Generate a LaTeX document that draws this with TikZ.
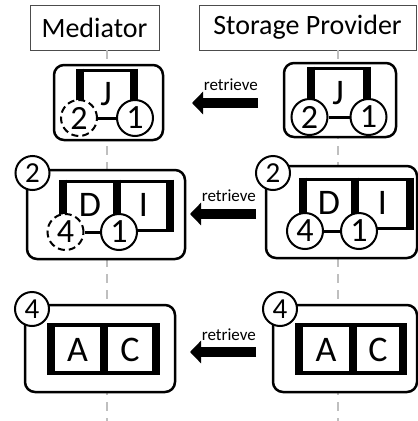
\documentclass[tikz,border=0pt]{standalone}
\usepackage{fontspec}
\setmainfont{Carlito}
\usetikzlibrary{arrows.meta}

\begin{document}
\begin{tikzpicture}[x=1pt, y=-1pt,
	header/.style={draw=black!70, line width=0.9pt, minimum height=45pt, inner sep=0pt, font=\fontsize{28}{28}\selectfont},
	lifeline/.style={draw=black!25, line width=2pt, dash pattern=on 9pt off 7pt},
	group/.style={draw, line width=2.5pt, rounded corners=10pt, fill=white},
	chunk/.style={circle, draw, line width=2pt, fill=white, minimum size=36pt, inner sep=0pt, font=\fontsize{34}{34}\selectfont},
	missing/.style={chunk, dash pattern=on 7pt off 4pt},
	badge/.style={chunk, minimum size=34pt, font=\fontsize{29}{29}\selectfont},
	letter/.style={inner sep=0pt, font=\fontsize{36}{36}\selectfont},
	thinside/.style={line width=3pt},
	thickside/.style={line width=7.5pt},
	fetch/.style={line width=10pt, -{Triangle[length=11pt, width=22pt]}},
	fetchlabel/.style={anchor=base east, inner sep=0pt, font=\fontsize{17}{17}\selectfont}]
	\useasboundingbox (0,0) rectangle (418,421);
	\node[header, minimum width=129pt] (med) at (94.5,27.5) {Mediator};
	\node[header, minimum width=217pt] (sp) at (307.5,27.5) {Storage Provider};
	\coordinate (medend) at (107,421);
	\coordinate (spend) at (338,421);
	\draw[lifeline] (med.south -| medend) -- (medend);
	\draw[lifeline] (sp.south -| spend) -- (spend);

	\draw[group] (54,65) rectangle (163,140);
	\draw[thinside] (80,118) -- (80,70) -- (134,70) -- (134,118);
	\draw[thickside] (80,68.5) -- (80,118) (134,68.5) -- (134,118);
	\node[letter] (mj) at (106,94) {J};
	\node[missing] (mj2) at (79,118) {2};
	\node[chunk] (mj1) at (135,118) {1};
	\draw[thinside] (mj2) -- (mj1);

	\draw[group] (284,63) rectangle (396,137);
	\draw[thinside] (311,117) -- (311,68) -- (367,68) -- (367,117);
	\draw[thickside] (311,66.5) -- (311,117) (367,66.5) -- (367,117);
	\node[letter] (sj) at (338,93) {J};
	\node[chunk] (sj2) at (309.5,117) {2};
	\node[chunk] (sj1) at (368.5,117) {1};
	\draw[thinside] (sj2) -- (sj1);

	\coordinate (f1s) at (258,103);
	\coordinate (f1e) at (192,103);
	\draw[fetch] (f1s) -- (f1e);
	\node[fetchlabel] (t1) at (258,90) {retrieve};

	\draw[group] (27,170) rectangle (185,259);
	\draw[thinside] (63,181) -- (170,181) (117,230) -- (170,230);
	\draw[thickside] (63,179.5) -- (63,230) (117,179.5) -- (117,230) (170,179.5) -- (170,231.5);
	\node[letter] (md) at (90,205) {D};
	\node[letter] (mi) at (143.5,205) {I};
	\node[missing] (md4) at (65.5,232) {4};
	\node[chunk] (md1) at (119,232) {1};
	\draw[thinside] (md4) -- (md1);
	\node[badge] (mb2) at (32.5,173) {2};

	\draw[group] (266,166) rectangle (417,258);
	\draw[thinside] (303,179) -- (410,179) (357,228) -- (410,228);
	\draw[thickside] (303,177.5) -- (303,228) (355,177.5) -- (355,228) (410,177.5) -- (410,229.5);
	\node[letter] (sd) at (329,203) {D};
	\node[letter] (si) at (382.5,203) {I};
	\node[chunk] (sd4) at (305,231) {4};
	\node[chunk] (sd1) at (359,231) {1};
	\draw[thinside] (sd4) -- (sd1);
	\node[badge] (sb2) at (273,173) {2};

	\coordinate (f2s) at (256,214);
	\coordinate (f2e) at (190,214);
	\draw[fetch] (f2s) -- (f2e);
	\node[fetchlabel] (t2) at (256,201) {retrieve};

	\draw[group] (25,305) rectangle (175,392);
	\draw[line width=3.5pt] (51,325) rectangle (156,373);
	\draw[line width=8pt] (51,323.25) -- (51,374.75) (104,323.25) -- (104,374.75) (156,323.25) -- (156,374.75);
	\node[letter] (ma) at (77.5,350) {A};
	\node[letter] (mc) at (130,350) {C};
	\node[badge] (mb4) at (32,309) {4};

	\draw[group] (273,305) rectangle (417,392);
	\draw[line width=3.5pt] (299,325) rectangle (403,373);
	\draw[line width=8pt] (299,323.25) -- (299,374.75) (353,323.25) -- (353,374.75) (403,323.25) -- (403,374.75);
	\node[letter] (sa) at (326,350) {A};
	\node[letter] (sc) at (378,350) {C};
	\node[badge] (sb4) at (280,309) {4};

	\coordinate (f3s) at (256,352);
	\coordinate (f3e) at (190,352);
	\draw[fetch] (f3s) -- (f3e);
	\node[fetchlabel] (t3) at (256,340) {retrieve};
\end{tikzpicture}
\end{document}
